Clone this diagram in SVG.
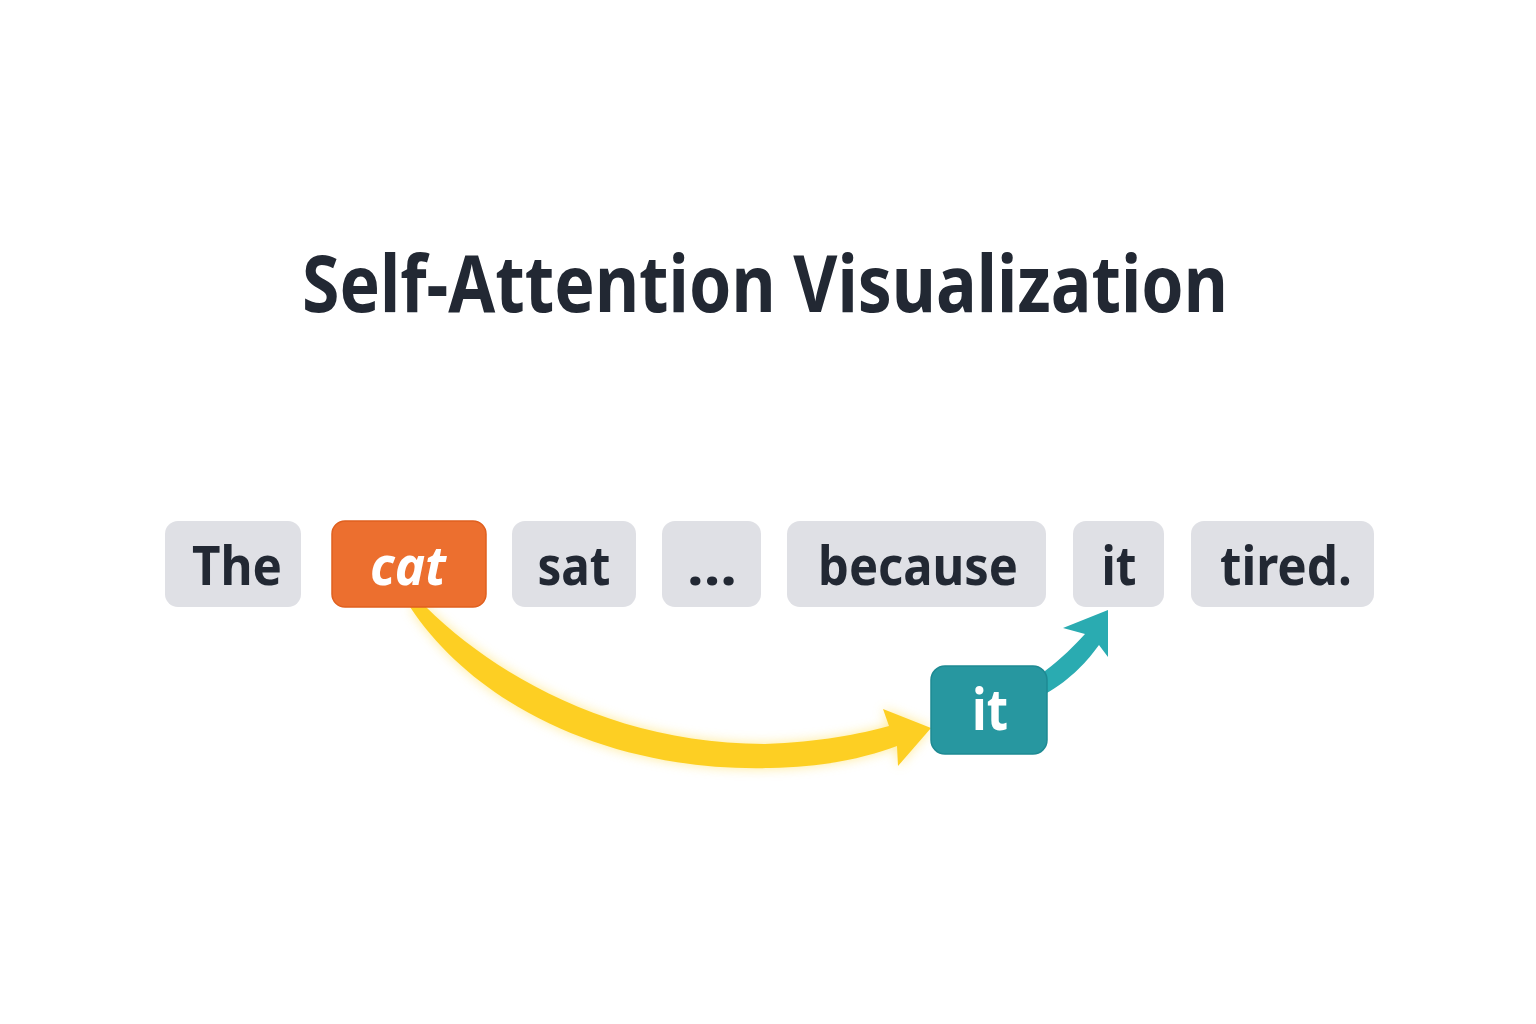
<svg xmlns="http://www.w3.org/2000/svg" width="1536" height="1024" viewBox="0 0 1536 1024">
<defs>
<style>
.tok rect{fill:#DFE0E5;}
.tok text{font-family:"Noto Sans","Open Sans",sans-serif;font-weight:700;font-size:54px;fill:#222833;text-anchor:middle;}
.title{font-family:"Noto Sans","Open Sans",sans-serif;font-weight:700;font-size:78px;fill:#222833;text-anchor:middle;}
</style>
<filter id="glow" x="-20%" y="-20%" width="140%" height="140%">
<feGaussianBlur stdDeviation="6"/>
</filter>
</defs>
<rect width="1536" height="1024" fill="#FFFFFF"/>
<text class="title" x="765" y="312" textLength="926" lengthAdjust="spacingAndGlyphs">Self-Attention Visualization</text>

<g id="connectors">
<path d="M410,607 C480,712 620,772 770,768 C830,767 870,756 897,746 L898,766 L931,728 L883,709 L889,726 C860,734 820,742 765,744 C620,744 500,680 426,607 Z" fill="#FFE26A" opacity="0.7" filter="url(#glow)"/>
<path d="M410,607 C480,712 620,772 770,768 C830,767 870,756 897,746 L898,766 L931,728 L883,709 L889,726 C860,734 820,742 765,744 C620,744 500,680 426,607 Z" fill="#FDCF23"/>
<path d="M1045,671 C1062,658 1074,646 1085,634 L1063,628 L1108,610 L1108,657 L1099,645 C1088,660 1072,679 1045,694 Z" fill="#2AABB1"/>
</g>

<g id="node-the" class="tok"><rect x="165" y="521" width="136" height="86" rx="13"/><text x="237" y="585" textLength="90" lengthAdjust="spacingAndGlyphs">The</text></g>
<g id="node-cat"><rect x="332" y="521" width="154" height="86" rx="13" fill="#EC6F2F" stroke="#E0601F" stroke-width="1.5"/><text x="408" y="585" font-family="'Noto Sans','Open Sans',sans-serif" font-weight="700" font-style="italic" font-size="54" fill="#FFFFFF" text-anchor="middle" textLength="76" lengthAdjust="spacingAndGlyphs">cat</text></g>
<g id="node-sat" class="tok"><rect x="512" y="521" width="124" height="86" rx="13"/><text x="574" y="585" textLength="73" lengthAdjust="spacingAndGlyphs">sat</text></g>
<g id="node-ellipsis" class="tok"><rect x="662" y="521" width="99" height="86" rx="13"/><text x="712" y="585" textLength="50" lengthAdjust="spacingAndGlyphs">...</text></g>
<g id="node-because" class="tok"><rect x="787" y="521" width="259" height="86" rx="13"/><text x="918" y="585" textLength="200" lengthAdjust="spacingAndGlyphs">because</text></g>
<g id="node-it" class="tok"><rect x="1073" y="521" width="91" height="86" rx="13"/><text x="1119" y="585" textLength="35" lengthAdjust="spacingAndGlyphs">it</text></g>
<g id="node-tired" class="tok"><rect x="1191" y="521" width="183" height="86" rx="13"/><text x="1286" y="585" textLength="132" lengthAdjust="spacingAndGlyphs">tired.</text></g>
<g id="node-it-query"><rect x="931" y="666" width="116" height="88" rx="14" fill="#2797A0" stroke="#1E8A93" stroke-width="1.5"/><text x="990" y="730" font-family="'Noto Sans','Open Sans',sans-serif" font-weight="700" font-size="58" fill="#FFFFFF" text-anchor="middle" textLength="36" lengthAdjust="spacingAndGlyphs">it</text></g>
</svg>
